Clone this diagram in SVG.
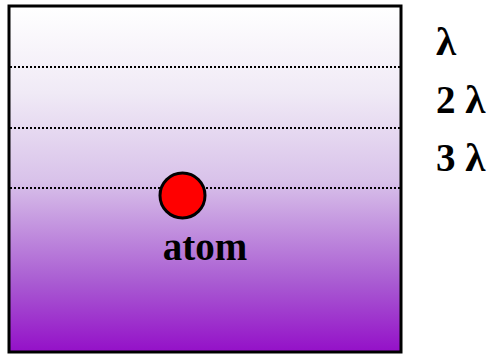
<svg xmlns="http://www.w3.org/2000/svg" width="503" height="355" viewBox="0 0 503 355">
<defs>
<linearGradient id="g" x1="0" y1="0" x2="0" y2="1">
<stop offset="0" stop-color="#ffffff"/>
<stop offset="0.25" stop-color="#f0eaf6"/>
<stop offset="0.5" stop-color="#d9c3ea"/>
<stop offset="0.8" stop-color="#a95bd2"/>
<stop offset="1" stop-color="#9410c8"/>
</linearGradient>
<style>
.dot{stroke:#000;stroke-width:2;stroke-dasharray:2 2;fill:none}
.lbl{font-family:"Liberation Serif",serif;font-weight:bold;font-size:39px;fill:#000}
.lam{font-size:41px}
</style>
</defs>
<g id="box">
<rect x="9" y="6" width="392" height="346" fill="url(#g)" stroke="#000" stroke-width="3"/>
</g>
<g id="lines">
<line class="dot" x1="10" y1="67" x2="400" y2="67"/>
<line class="dot" x1="10" y1="128" x2="400" y2="128"/>
<line class="dot" x1="10" y1="188" x2="400" y2="188"/>
</g>
<g id="atom">
<circle cx="182.5" cy="195.5" r="22.5" fill="#ff0000" stroke="#000" stroke-width="3"/>
<text class="lbl" x="205" y="260" text-anchor="middle" font-size="42">atom</text>
</g>
<g id="labels">
<text class="lbl" x="436" y="55"><tspan class="lam">λ</tspan></text>
<text class="lbl" x="436" y="113">2 <tspan class="lam">λ</tspan></text>
<text class="lbl" x="436" y="171">3 <tspan class="lam">λ</tspan></text>
</g>
</svg>
